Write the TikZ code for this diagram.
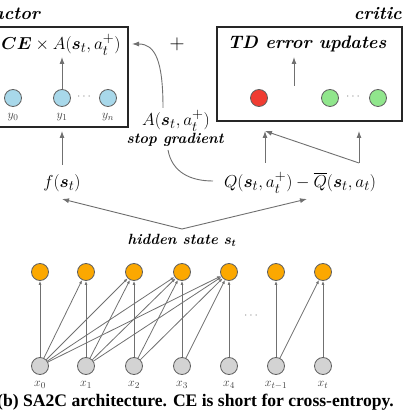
\documentclass[tikz,border=0pt]{standalone}
\usepackage{amsmath,bm}
\usepackage{fontspec}
\newfontfamily\capfont{Liberation Serif}
\usetikzlibrary{arrows.meta}
\definecolor{lgray}{HTML}{D3D3D3}
\definecolor{lblue}{HTML}{A8D8EA}
\definecolor{lred}{HTML}{F03C32}
\definecolor{lgreen}{HTML}{90E68C}
\definecolor{lorange}{HTML}{FCA800}
\definecolor{edge}{HTML}{707070}
\definecolor{ring}{HTML}{606060}
\tikzset{
  unit/.style={circle,draw=ring,line width=0.8pt,minimum size=17pt,inner sep=0pt},
  xin/.style={unit,fill=lgray},
  hid/.style={unit,fill=lorange},
  yout/.style={unit,fill=lblue},
  qred/.style={unit,fill=lred},
  qgreen/.style={unit,fill=lgreen},
  conn/.style={draw=edge,line width=0.9pt},
  arr/.style={conn,-{Latex[length=7pt,width=5pt]}},
  netarr/.style={conn,line width=0.8pt,-{Latex[length=4pt,width=3pt]}},
  boxframe/.style={draw=black!85,line width=1.2pt},
  mathlab/.style={font=\fontsize{19}{22}\selectfont,inner sep=0pt},
  small/.style={font=\fontsize{13}{15}\selectfont,inner sep=0pt,text=black!75},
  bilab/.style={font=\fontsize{18}{21}\selectfont\bfseries\itshape,inner sep=0pt},
  milab/.style={font=\fontsize{14.8}{17}\selectfont\bfseries\itshape,inner sep=0pt},
}
\begin{document}
\begin{tikzpicture}[x=1pt,y=-1pt]
\useasboundingbox (0,0) rectangle (420,419);
\clip (0,0) rectangle (420,419);
% boxes
\draw[boxframe] (-4,27) rectangle (128,127);
\draw[boxframe] (217,27) rectangle (402,121);
\node[bilab,anchor=base west] (actlab) at (-7,20) {actor};
\node[bilab,anchor=base east] (critlab) at (402,20) {critic};
% actor content
\node[mathlab] (ce) at (61,45) {$\bm{C}\bm{E}\times A(\bm{s}_t,a_t^{+})$};
\node[yout] (y0) at (13,98) {};
\node[yout] (y1) at (62,98) {};
\node[yout] (yn) at (108,98) {};
\node[small] (ly0) at (13,117) {$y_0$};
\node[small] (ly1) at (62,117) {$y_1$};
\node[small] (lyn) at (108,117) {$y_n$};
\node[small,text=black!45] (ydots) at (85,97) {$\cdots$};
\draw[arr] (y1.north) -- (62,57);
% plus
\node[font=\fontsize{22}{24}\selectfont] (plus) at (177,44) {$+$};
% critic content
\node[bilab] (td) at (307,44) {TD error updates};
\node[qred] (r) at (259,98) {};
\node[qgreen] (g1) at (330,98) {};
\node[qgreen] (g2) at (378,98) {};
\node[small,text=black!45] (gdots) at (354,97) {$\cdots$};
\coordinate (tdin) at (294,86);
\draw[arr] (tdin) -- (294,57);
% middle labels
\node[mathlab] (adv) at (176,121) {$A(\bm{s}_t,a_t^{+})$};
\node[milab] (sg) at (175,140) {stop gradient};
\node[mathlab] (f) at (62,183) {$f(\bm{s}_t)$};
\node[mathlab] (q) at (300,183) {$Q(\bm{s}_t,a_t^{+}) - \overline{Q}(\bm{s}_t,a_t)$};
\node[milab] (hs) at (182,240) {hidden state $\bm{s_t}$};
% connectors
\coordinate (apex) at (182,229);
\draw[arr] (apex) -- (62,199);
\draw[arr] (apex) -- (307,199);
\draw[arr] (62,165) -- (62,131);
\coordinate (ql) at (265,163);
\coordinate (qr) at (359,163);
\coordinate (ctgt) at (265,131);
\draw[arr] (ql) -- (ctgt);
\draw[arr] (qr) -- (359,131);
\draw[arr] (qr) -- (ctgt);
\draw[arr] (163,108) .. controls (163,60) and (155,44) .. (132,44);
\draw[conn] (168,150) .. controls (172,172) and (190,181) .. (213,181);
% bottom network
\foreach \i/\x/\lab in {0/40/x_0,1/86/x_1,2/134/x_2,3/182/x_3,4/229/x_4,5/276/x_{t-1},6/323/x_t}{
  \node[xin] (x\i) at (\x,366) {};
  \node[hid] (h\i) at (\x,272) {};
  \node[small] (lx\i) at (\x,385) {$\lab$};
}
\foreach \a/\b in {0/0,1/1,2/2,3/3,4/4,5/5,6/6,0/1,0/2,0/3,0/4,1/2,1/3,1/4,2/3,2/4,3/4,5/6}{
  \draw[netarr] (x\a) -- (h\b);
}
\node[small,text=black!45] (ndots) at (252,316) {$\cdots$};
% caption
\node[anchor=base west,inner sep=0pt,font=\capfont\bfseries\fontsize{17.6}{20}\selectfont] (cap) at (-3,406) {(b) SA2C architecture. CE is short for cross-entropy.};
\end{tikzpicture}
\end{document}
